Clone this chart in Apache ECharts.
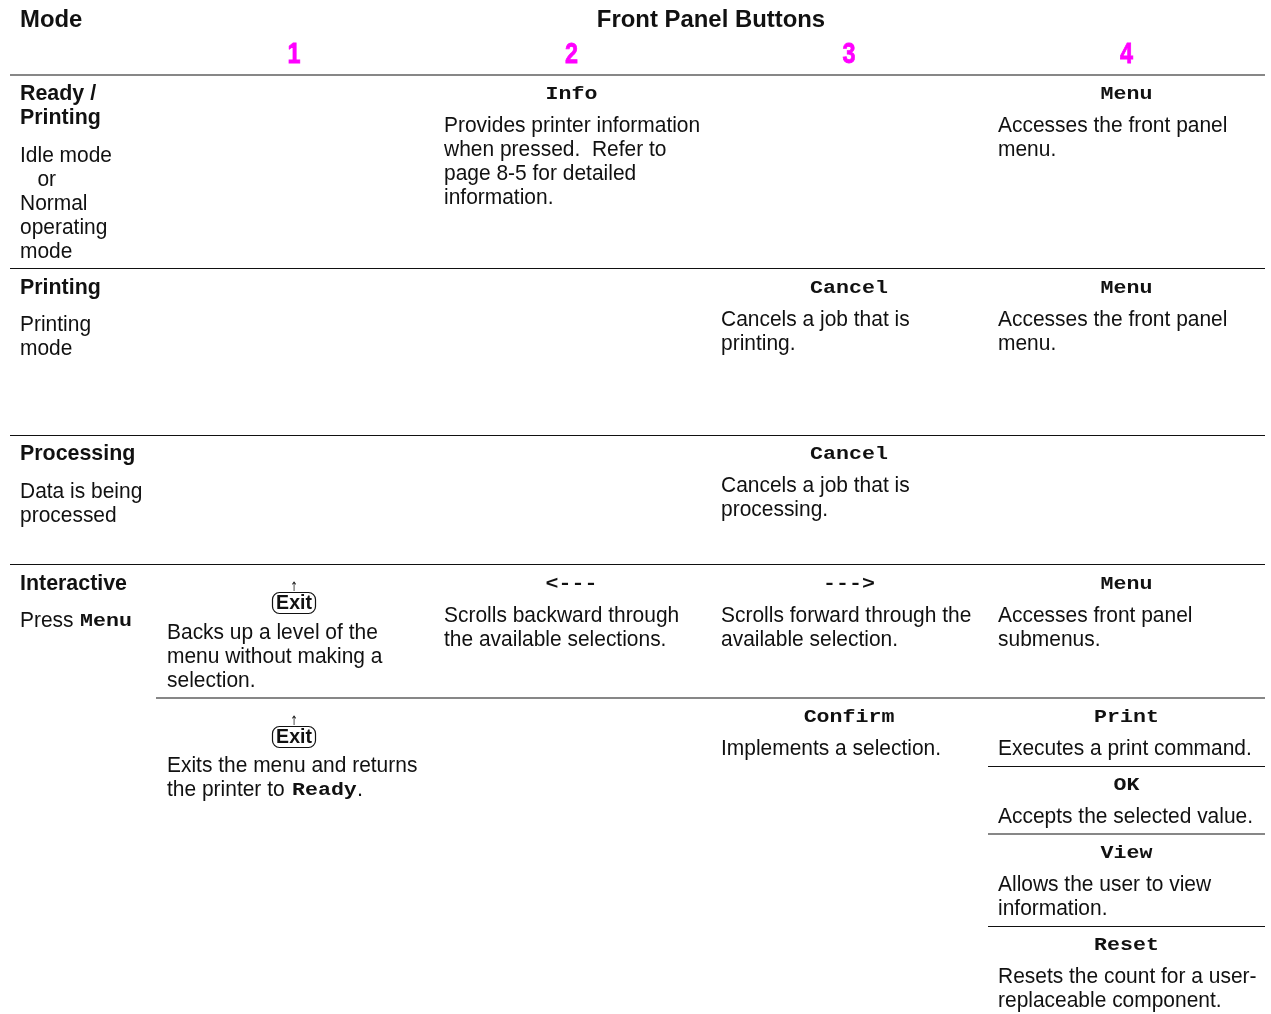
<!DOCTYPE html>
<html lang="en">
<head>
    <meta charset="UTF-8">
    <title>Front Panel Buttons</title>
    <script src="https://cdn.jsdelivr.net/npm/echarts@6/dist/echarts.min.js"></script>
    <style>
        html, body { margin: 0; padding: 0; background: #fff; }
        #container { width: 1271px; height: 1014px; }
    </style>
</head>
<body>
<div id="container"></div>
<script>
    // table content
    var headTitles = ["Mode", "Front Panel Buttons"];
    var buttonNumbers = ["1", "2", "3", "4"];
    var modeNames = [["Ready /", "Printing"], ["Printing"], ["Processing"], ["Interactive"]];
    var modeNotes = [
        ["Idle mode", "   or", "Normal", "operating", "mode"],
        ["Printing", "mode"],
        ["Data is being", "processed"],
        ["Press"]
    ];
    var buttonNames = ["Info", "Menu", "Cancel", "Menu", "Cancel", "<---", "--->", "Menu", "Confirm", "Print", "OK", "View", "Reset"];
    var buttonColumns = [1, 3, 2, 3, 2, 1, 2, 3, 2, 3, 3, 3, 3];
    var buttonTexts = [
        ["Provides printer information", "when pressed.  Refer to", "page 8-5 for detailed", "information."],
        ["Accesses the front panel", "menu."],
        ["Cancels a job that is", "printing."],
        ["Accesses the front panel", "menu."],
        ["Cancels a job that is", "processing."],
        ["Scrolls backward through", "the available selections."],
        ["Scrolls forward through the", "available selection."],
        ["Accesses front panel", "submenus."],
        ["Implements a selection."],
        ["Executes a print command."],
        ["Accepts the selected value."],
        ["Allows the user to view", "information."],
        ["Resets the count for a user-", "replaceable component."]
    ];
    var exitLabel = "Exit";
    var exitArrow = "↑";
    var exitTexts = [
        ["Backs up a level of the", "menu without making a", "selection."],
        ["Exits the menu and returns", "the printer to"]
    ];
    var inlineNames = ["Menu", "Ready"];
    var exitTail = ".";

    // layout, page pixels
    var columnLeft = [167, 444, 721, 998];
    var columnCenter = [294, 571.5, 849, 1126.5];
    var modeLeft = 20;
    var modeNameY = [94, 288, 454, 584];
    var modeNoteY = [156, 325, 492, 621];
    var buttonNameY = [95, 95, 289, 289, 455, 585, 585, 585, 718, 718, 786, 854, 946];
    var exitY = [603, 737];
    var exitTextY = [633, 766];
    var inlineX = [80, 292];
    var inlineY = [621, 790];
    var exitTailX = 357;
    var rules = [
        [10, 1265, 75],
        [10, 1265, 268.5],
        [10, 1265, 435.5],
        [10, 1265, 564.5],
        [156, 1265, 698],
        [988, 1265, 766.5],
        [988, 1265, 834],
        [988, 1265, 926.5]
    ];
    var lineHeight = 24;
    var nameGap = 31;

    var sans = '"Liberation Sans", Arial, sans-serif';
    var mono = '"Liberation Mono", "Courier New", monospace';
    var bodyFont = "21.7px " + sans;
    var bodyScale = 0.966;
    var boldFont = "bold 21.4px " + sans;
    var headFont = "bold 23.9px " + sans;
    var monoFont = "bold 21.6px " + mono;

    var items = [];

    function addLines(lines, x, y, font, sx) {
        lines.forEach(function (s, i) {
            items.push({x: x, y: y + i * lineHeight, text: s, font: font, align: "left", sx: sx});
        });
    }

    items.push({x: modeLeft, y: 20, text: headTitles[0], font: headFont, align: "left"});
    items.push({x: 711, y: 20, text: headTitles[1], font: headFont, align: "center"});
    buttonNumbers.forEach(function (s, i) {
        items.push({x: columnCenter[i], y: 54.5, text: s, font: "bold 30px " + sans, align: "center", fill: "#ff00ff", sx: 0.78, thick: true});
    });
    modeNames.forEach(function (m, i) {
        addLines(m, modeLeft, modeNameY[i], boldFont);
        addLines(modeNotes[i], modeLeft, modeNoteY[i], bodyFont, bodyScale);
    });
    buttonNames.forEach(function (s, i) {
        var col = buttonColumns[i];
        items.push({x: columnCenter[col], y: buttonNameY[i] - 0.5, text: s, font: monoFont, align: "center", sy: 0.88});
        addLines(buttonTexts[i], columnLeft[col], buttonNameY[i] + nameGap, bodyFont, bodyScale);
    });
    exitTexts.forEach(function (t, i) {
        addLines(t, columnLeft[0], exitTextY[i], bodyFont, bodyScale);
        items.push({x: columnCenter[0], y: exitY[i] + 0.5, text: exitLabel, font: "bold 19.5px " + sans, align: "center"});
        items.push({x: columnCenter[0], y: exitY[i] - 15, text: exitArrow, font: '13px "DejaVu Sans", sans-serif', align: "center", sx: 0.7});
    });
    inlineNames.forEach(function (s, i) {
        items.push({x: inlineX[i], y: inlineY[i], text: s, font: monoFont, align: "left", sy: 0.88});
    });
    items.push({x: exitTailX, y: exitTextY[1] + lineHeight, text: exitTail, font: bodyFont, align: "left"});

    var myChart = echarts.init(document.getElementById("container"));
    myChart.setOption({
        animation: false,
        backgroundColor: "#fff",
        grid: {left: 0, right: 0, top: 0, bottom: 0},
        xAxis: {type: "value", min: 0, max: 1271, show: false},
        yAxis: {type: "value", min: 0, max: 1014, inverse: true, show: false},
        series: [{
            type: "custom",
            silent: true,
            clip: false,
            data: rules,
            renderItem: function (params, api) {
                var a = api.coord([api.value(0), api.value(2)]);
                var b = api.coord([api.value(1), api.value(2)]);
                return {
                    type: "line",
                    shape: {x1: a[0], y1: a[1], x2: b[0], y2: b[1]},
                    style: {stroke: "#111", lineWidth: 1.2}
                };
            }
        }, {
            type: "custom",
            silent: true,
            clip: false,
            data: exitY.map(function (y) { return [columnCenter[0], y]; }),
            renderItem: function (params, api) {
                var c = api.coord([api.value(0), api.value(1)]);
                return {
                    type: "rect",
                    shape: {x: c[0] - 21.5, y: c[1] - 10.5, width: 43, height: 21, r: 7},
                    style: {fill: "none", stroke: "#111", lineWidth: 1.2}
                };
            }
        }, {
            type: "custom",
            silent: true,
            clip: false,
            data: items.map(function (it) { return [it.x, it.y]; }),
            renderItem: function (params, api) {
                var it = items[params.dataIndex];
                var c = api.coord([api.value(0), api.value(1)]);
                return {
                    type: "text",
                    x: c[0],
                    y: c[1],
                    scaleX: it.sx || 1,
                    scaleY: it.sy || 1,
                    style: {
                        text: it.text,
                        font: it.font,
                        fill: it.fill || "#111",
                        stroke: it.thick ? it.fill : null,
                        lineWidth: it.thick ? 0.8 : 0,
                        align: it.align,
                        verticalAlign: "middle"
                    }
                };
            }
        }]
    });
</script>
</body>
</html>
